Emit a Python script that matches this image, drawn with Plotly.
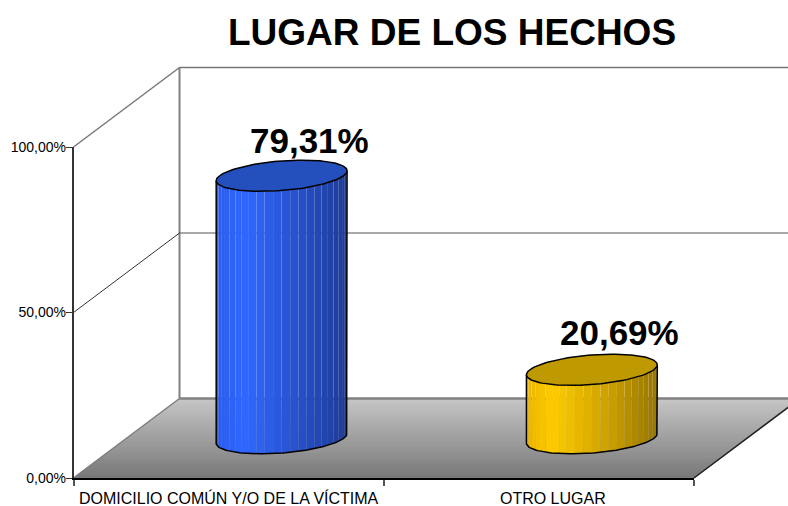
import numpy as np
import plotly.graph_objects as go

categories = ["DOMICILIO COMÚN Y/O DE LA VÍCTIMA", "OTRO LUGAR"]
values = [79.31, 20.69]
value_labels = ["79,31%", "20,69%"]
y_ticks = [0, 50, 100]
y_tick_labels = ["0,00%", "50,00%", "100,00%"]
title = "LUGAR DE LOS HECHOS"

W, H = 788, 506
X0, X1 = 73.5, 694.0      # front axis pixel extent
Y0, Y100 = 478.0, 147.0   # value axis pixel extent
DX, DY = 106.0, 79.5      # oblique depth offset in pixels
cat_px = (X1 - X0) / len(categories)
val_px = (Y0 - Y100) / 100
dep_x, dep_y = DX / cat_px, DY / val_px
x_range = [-X0 / cat_px, (W - X0) / cat_px]
y_range = [-(H - Y0) / val_px, Y0 / val_px]


def project(c, z, v):
    return c + z * dep_x, v + z * dep_y


def mix(stops, f):
    pos = [s[0] for s in stops]
    return "rgb(%d,%d,%d)" % tuple(np.interp(f, pos, [s[1][i] for s in stops]) for i in range(3))


fig = go.Figure()


def poly(xs, ys, color, line=None, width=0):
    fig.add_trace(go.Scatter(x=xs, y=ys, mode="lines", fill="toself", fillcolor=color,
                             line=dict(color=line or color, width=width), hoverinfo="skip",
                             showlegend=False, xaxis="x", yaxis="y"))


def seg(c, z, v, color, width):
    x, y = project(np.array(c, float), np.array(z, float), np.array(v, float))
    fig.add_trace(go.Scatter(x=x, y=y, mode="lines", line=dict(color=color, width=width),
                             hoverinfo="skip", showlegend=False, xaxis="x", yaxis="y"))


# floor gradient
N_F = 40
n = len(categories)
for i in range(N_F):
    z0, z1 = i / N_F, (i + 1) / N_F
    xa, ya = project(0, z0, 0); xb, yb = project(n, z0, 0)
    xc, yc = project(n, z1, 0); xd, yd = project(0, z1, 0)
    col = mix([(0, (120, 120, 120)), (1, (198, 198, 198))], (i + .5) / N_F)
    poly([xa, xb, xc, xd, xa], [ya, yb, yc, yd, ya], col, col, 1)

# walls
seg([0, 0], [1, 1], [0, 100], "#808080", 2)
for v, col, wd in [(0, "#808080", 2.5), (50, "#555555", 1.2), (100, "#777777", 1.5)]:
    seg([0, n], [1, 1], [v, v], col, wd)
seg([0, 0], [0, 1], [0, 0], "#808080", 1.5)
seg([0, 0], [0, 1], [50, 50], "#333333", 1)
seg([0, 0], [0, 1], [100, 100], "#777777", 1.5)
seg([n, n], [0, 1], [0, 0], "#222222", 1.5)

# cylinders
R_C, R_Z = 0.2, 0.196
palettes = [
    dict(stops=[(0, (44, 92, 238)), (.22, (48, 104, 255)), (.6, (40, 82, 206)), (1, (30, 60, 150))],
         cap="#2450BE"),
    dict(stops=[(0, (236, 182, 0)), (.2, (255, 204, 0)), (.6, (208, 164, 0)), (1, (150, 118, 0))],
         cap="#BF9900"),
]
for i, (v, pal) in enumerate(zip(values, palettes)):
    c = i + .5
    ring = lambda t, h: project(c + R_C * np.cos(t), .5 + R_Z * np.sin(t), h)
    # silhouette tangents of the oblique circle; the front runs through sin(t) < 0
    t_r = np.arctan2(R_Z * dep_x, R_C)
    t_l = t_r - np.pi
    edges = np.linspace(t_r, t_l, 25)
    xl, _ = ring(t_l, 0); xr, _ = ring(t_r, 0)
    for j in range(len(edges) - 1):
        t1, t2 = edges[j], edges[j + 1]
        xa, ya = ring(t1, 0); xb, yb = ring(t2, 0)
        xc, yc = ring(t2, v); xd, yd = ring(t1, v)
        xm, _ = ring((t1 + t2) / 2, 0)
        f = (xm - xl) / (xr - xl)
        poly([xa, xb, xc, xd, xa], [ya, yb, yc, yd, ya], mix(pal["stops"], f))
    ts = np.linspace(t_r, t_l, 80)
    bx, by = ring(ts, 0)
    tx_r, ty_r = ring(t_r, v); tx_l, ty_l = ring(t_l, v)
    fig.add_trace(go.Scatter(x=np.r_[tx_r, bx, tx_l], y=np.r_[ty_r, by, ty_l], mode="lines",
                             line=dict(color="black", width=1.5), hoverinfo="skip",
                             showlegend=False, xaxis="x", yaxis="y"))
    ts = np.linspace(0, 2 * np.pi, 120)
    cx, cy = ring(ts, v)
    poly(cx, cy, pal["cap"], "black", 1.5)
    ax, ay = project(c, .5, v)
    fig.add_annotation(x=ax, y=ay, xref="x", yref="y", text=value_labels[i], showarrow=False,
                       xshift=28, yshift=[35, 37][i],
                       font=dict(family="Liberation Sans, Arial", size=35, color="black", weight="bold"))

# real axes
fig.add_trace(go.Scatter(x=[0.5, 1.5], y=values, mode="markers", marker=dict(opacity=0),
                         hoverinfo="skip", showlegend=False, xaxis="x2", yaxis="y2"))

fig.update_layout(
    width=W, height=H, autosize=False, margin=dict(l=0, r=0, t=0, b=0),
    paper_bgcolor="white", plot_bgcolor="rgba(0,0,0,0)", showlegend=False,
    title=dict(text="<b>" + title + "</b>", x=452 / W, xanchor="center", y=1 - 32 / H, yanchor="middle",
               font=dict(family="Liberation Sans, Arial", size=37, color="black")),
    xaxis=dict(range=x_range, visible=False, domain=[0, 1], anchor="y", automargin=False),
    yaxis=dict(range=y_range, visible=False, domain=[0, 1], anchor="x", automargin=False),
    xaxis2=dict(range=[0, n], domain=[X0 / W, X1 / W], anchor="y2", showgrid=False, zeroline=False,
                tickmode="array", tickvals=[0.5, 1.545], ticktext=categories, ticks="", tickangle=0,
                ticklabelstandoff=5, automargin=False,
                tickfont=dict(family="Liberation Sans, Arial", size=16, color="black"),
                showline=True, linecolor="black", linewidth=1.5,
                minor=dict(tickmode="array", tickvals=[0, 1, 2], ticks="outside", ticklen=6,
                           tickcolor="#555555", tickwidth=1.5)),
    yaxis2=dict(range=[0, 100], domain=[(H - Y0) / H, (H - Y100) / H], anchor="x2", showgrid=False,
                zeroline=False, tickmode="array", tickvals=y_ticks, ticktext=y_tick_labels,
                ticks="outside", ticklen=6, tickcolor="#333333", tickwidth=1, automargin=False,
                ticklabelstandoff=-3,
                tickfont=dict(family="Liberation Sans, Arial", size=14, color="black"),
                showline=True, linecolor="#333333", linewidth=1.5),
)
fig.write_html("out.html", post_script="document.body.style.margin='0';",
               config={"displayModeBar": False})
